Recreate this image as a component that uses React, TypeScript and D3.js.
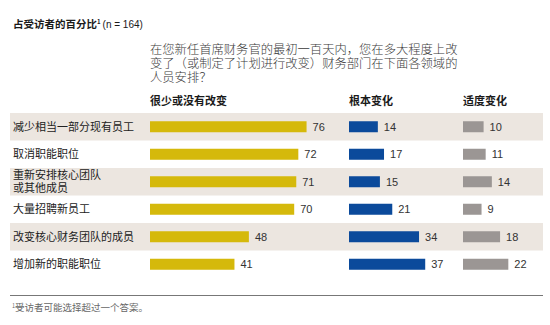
import React from "react";
import * as d3 from "d3";

const categories: string[][] = [
  ["减少相当一部分现有员工"],
  ["取消职能职位"],
  ["重新安排核心团队", "或其他成员"],
  ["大量招聘新员工"],
  ["改变核心财务团队的成员"],
  ["增加新的职能职位"],
];
const littleOrNone = [76, 72, 71, 70, 48, 41];
const fundamental = [14, 17, 15, 21, 34, 37];
const moderate = [10, 11, 14, 9, 18, 22];
const seriesNames = ["很少或没有改变", "根本变化", "适度变化"];
const questionLines = [
  "在您新任首席财务官的最初一百天内，您在多大程度上改",
  "变了（或制定了计划进行改变）财务部门在下面各领域的",
  "人员安排？",
];

const W = 550;
const H = 325;
const CJK = "'Noto Sans CJK SC', 'Noto Sans', sans-serif";
const NUM = "'Liberation Sans Narrow', 'Liberation Sans', Arial, sans-serif";

export default function App() {
  const ids = categories.map((_, i) => String(i));
  const y = d3.scaleBand<string>().domain(ids).range([113, 278]).paddingInner(0).paddingOuter(0);
  const x = d3.scaleLinear().domain([0, 100]).range([0, 206]);
  const colStarts = [150, 349, 463];
  const colors = ["#d5b90b", "#0b4a9b", "#9b9694"];
  const series = [littleOrNone, fundamental, moderate];
  const barH = 11;

  return (
    <svg width={W} height={H} style={{ position: "absolute", left: 0, top: 0, background: "#fff" }}>
      <rect x={0} y={0} width={W} height={H} fill="#fff" />
      {/* title */}
      <text x={13} y={28} fontFamily={CJK} fontSize={10.5} fontWeight={700} fill="#1a1a1a">
        占受访者的百分比
        <tspan fontSize={6} dy={-4}>1</tspan>
        <tspan fontFamily={NUM} fontWeight={400} fontSize={10} dy={4} dx={2}>(n = 164)</tspan>
      </text>
      {/* question */}
      {questionLines.map((l, i) => (
        <text key={i} x={150} y={54 + i * 14} fontFamily={CJK} fontSize={12.3} fontWeight={300} fill="#3a3a3a">
          {l}
        </text>
      ))}
      {/* headers */}
      {seriesNames.map((s, i) => (
        <text key={s} x={colStarts[i]} y={105} fontFamily={CJK} fontSize={11} fontWeight={700} fill="#1a1a1a">
          {s}
        </text>
      ))}
      {/* bands */}
      {ids.map((id, i) =>
        i % 2 === 0 ? (
          <rect key={id} x={10} y={y(id)!} width={533} height={y.bandwidth()} fill="#ece6e0" />
        ) : null
      )}
      {/* row labels */}
      {categories.map((lines, i) => {
        const cy = y(String(i))! + y.bandwidth() / 2;
        return lines.map((l, j) => (
          <text
            key={i + "-" + j}
            x={13}
            y={cy + (j - (lines.length - 1) / 2) * 13}
            dy="0.36em"
            fontFamily={CJK}
            fontSize={11}
            fill="#222"
          >
            {l}
          </text>
        ));
      })}
      {/* bars */}
      {series.map((vals, s) =>
        vals.map((v, i) => {
          const cy = y(String(i))! + y.bandwidth() / 2;
          return (
            <g key={s + "-" + i}>
              <rect x={colStarts[s]} y={cy - barH / 2} width={x(v)} height={barH} fill={colors[s]} />
              <text
                x={colStarts[s] + x(v) + 6}
                y={cy}
                dy="0.36em"
                fontFamily={NUM}
                fontSize={11}
                fill="#333"
              >
                {v}
              </text>
            </g>
          );
        })
      )}
      {/* bottom rule */}
      <line x1={10} x2={543} y1={295.5} y2={295.5} stroke="#777" strokeWidth={1} />
      <text x={12} y={311} fontFamily={CJK} fontSize={9.5} fill="#666">
        <tspan fontSize={5.5} dy={-3}>1</tspan>
        <tspan dy={3}>受访者可能选择超过一个答案。</tspan>
      </text>
    </svg>
  );
}
